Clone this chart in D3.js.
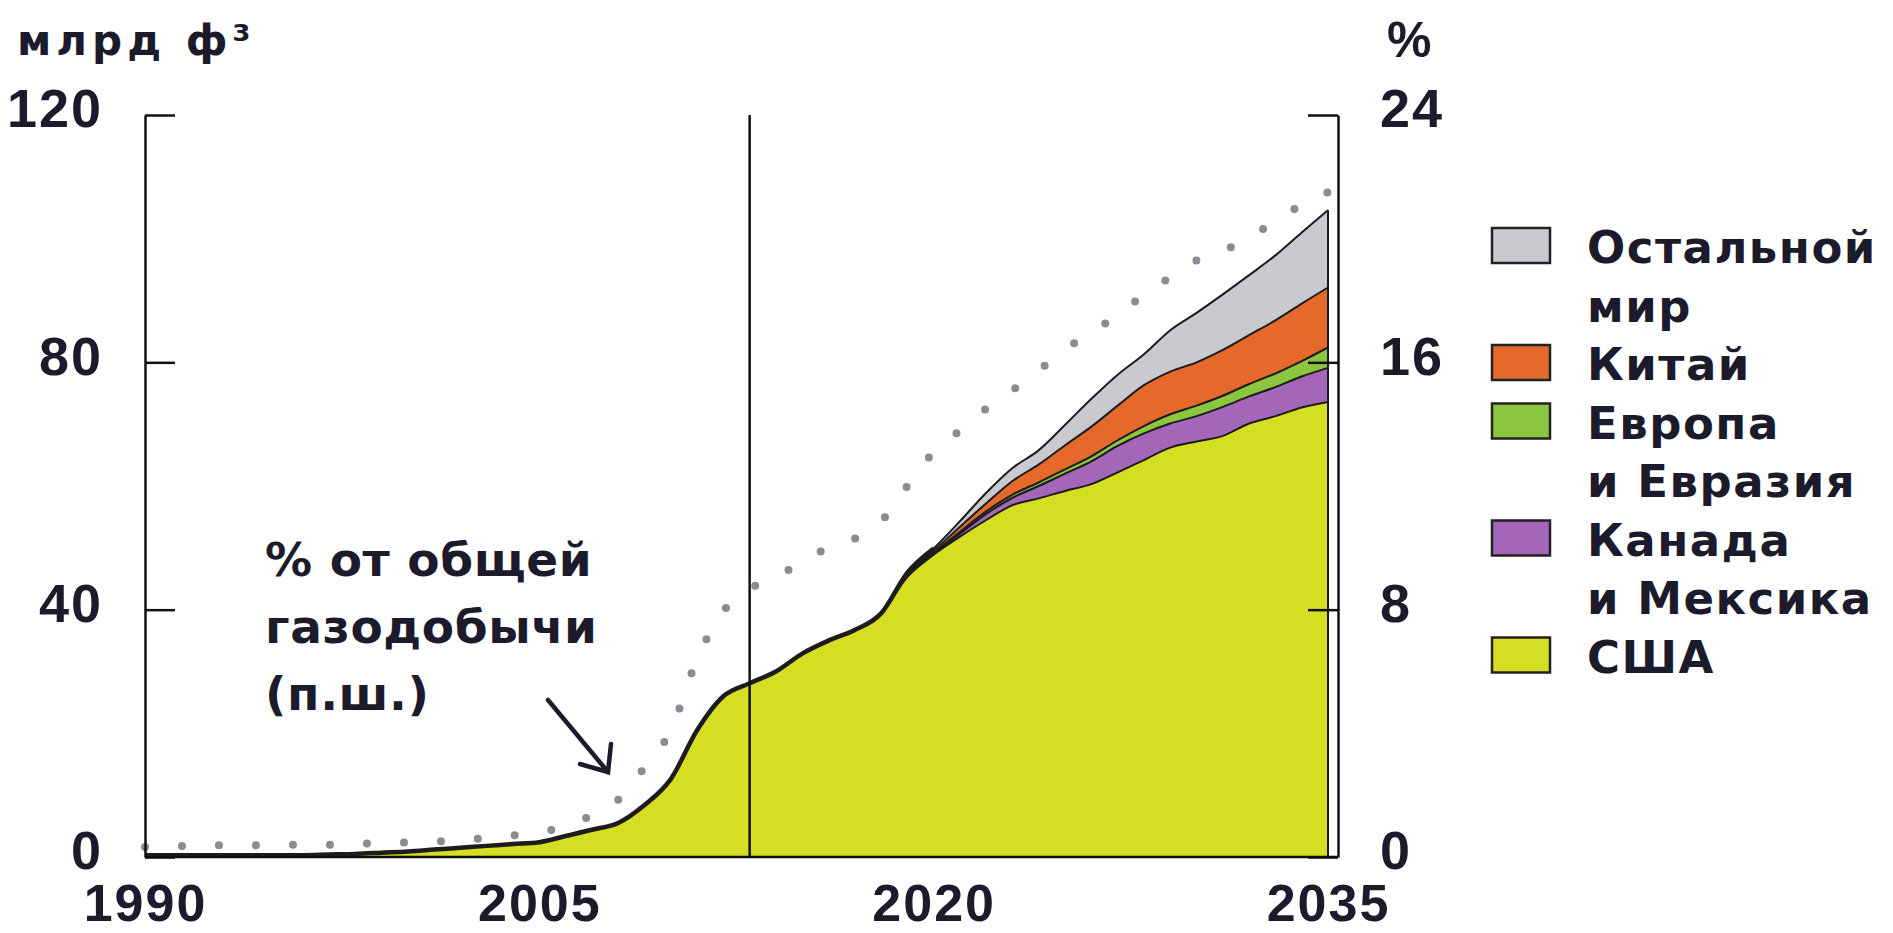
<!DOCTYPE html>
<html>
<head>
<meta charset="utf-8">
<script src="https://cdn.jsdelivr.net/npm/d3@7"></script>
<style>
  body { margin: 0; background: #fff; }
  text { fill: #1b1b2b; }
</style>
</head>
<body>
<script>
// years 1990..2035, one value per year
const years = d3.range(1990, 2036);

// bcm
const usa = [0.3, 0.3, 0.3, 0.3, 0.3, 0.3, 0.3, 0.4, 0.5, 0.7,
  0.9, 1.2, 1.5, 1.8, 2.1, 2.4, 3.4, 4.4, 5.5, 8.4,
  12.6, 20.5, 26.0, 28.1, 30.0, 32.9, 35.0, 36.7, 39.4, 45.3,
  48.9, 51.8, 54.5, 56.9, 58.0, 59.2, 60.3, 62.2, 64.2, 66.2,
  67.2, 68.1, 70.1, 71.3, 72.7, 73.6];
const canadaMexico = [0, 0, 0, 0, 0, 0, 0, 0, 0, 0,
  0, 0, 0, 0, 0, 0, 0, 0, 0, 0,
  0, 0, 0, 0, 0, 0, 0, 0, 0, 0.1,
  0.2, 0.5, 1.0, 1.2, 2.0, 2.8, 3.7, 4.3, 4.3, 3.9,
  4.1, 4.7, 4.4, 4.7, 5.0, 5.5];
const europeEurasia = [0, 0, 0, 0, 0, 0, 0, 0, 0, 0,
  0, 0, 0, 0, 0, 0, 0, 0, 0, 0,
  0, 0, 0, 0, 0, 0, 0, 0, 0, 0.1,
  0.1, 0.3, 0.4, 0.5, 0.6, 0.7, 0.8, 0.9, 1.2, 1.5,
  1.7, 1.8, 2.0, 2.2, 2.5, 3.3];
const china = [0, 0, 0, 0, 0, 0, 0, 0, 0, 0,
  0, 0, 0, 0, 0, 0, 0, 0, 0, 0,
  0, 0, 0, 0, 0, 0, 0, 0, 0, 0.2,
  0.3, 0.8, 1.3, 2.2, 2.9, 3.9, 4.8, 5.6, 6.6, 6.9,
  7.0, 7.4, 7.9, 8.6, 9.3, 9.7];
const restOfWorld = [0, 0, 0, 0, 0, 0, 0, 0, 0, 0,
  0, 0, 0, 0, 0, 0, 0, 0, 0, 0,
  0, 0, 0, 0, 0, 0, 0, 0, 0, 0.3,
  0.4, 0.9, 1.7, 2.1, 2.3, 3.3, 4.5, 5.0, 5.0, 6.7,
  8.0, 9.0, 9.7, 10.5, 11.5, 12.5];

// % of total gas production (right axis)
const shareOfTotal = [0.32, 0.35, 0.37, 0.38, 0.38, 0.39, 0.4, 0.4, 0.42, 0.45,
  0.47, 0.5, 0.54, 0.62, 0.7, 0.8, 1.0, 1.35, 1.85, 2.9,
  4.1, 6.4, 7.95, 8.67, 9.05, 9.55, 10.0, 10.3, 10.85, 12.0,
  13.1, 13.8, 14.5, 15.1, 15.75, 16.4, 17.0, 17.5, 18.2, 18.75,
  19.3, 19.6, 20.05, 20.55, 21.1, 21.5];

const seriesKeys = ["usa", "canadaMexico", "europeEurasia", "china", "restOfWorld"];
const seriesColors = ["#d5de22", "#a466b9", "#8cc63f", "#e5692a", "#c9cacf"];
const legendLabels = [
  ["Остальной", "мир"],
  ["Китай"],
  ["Европа", "и Евразия"],
  ["Канада", "и Мексика"],
  ["США"]
];
const legendColors = ["#c9cacf", "#e5692a", "#8cc63f", "#a466b9", "#d5de22"];

const leftTicks = [0, 40, 80, 120];
const rightTicks = [0, 8, 16, 24];
const yearTicks = [1990, 2005, 2020, 2035];
const projectionStart = 2013;

const WIDTH = 1893, HEIGHT = 933;
const PLOT = { left: 145, right: 1328, axisRight: 1338, top: 115, bottom: 857 };
const NUM_FONT = "'Liberation Sans', Arial, sans-serif";
const TXT_FONT = "'DejaVu Sans', sans-serif";

const svg = d3.select("body").append("svg")
  .attr("width", WIDTH).attr("height", HEIGHT);

const x = d3.scaleLinear().domain([1990, 2035]).range([PLOT.left, PLOT.right]);
const yLeft = d3.scaleLinear().domain([0, 120]).range([PLOT.bottom, PLOT.top]);
const yRight = d3.scaleLinear().domain([0, 24]).range([PLOT.bottom, PLOT.top]);

const table = years.map((yr, i) => ({
  year: yr,
  usa: usa[i],
  canadaMexico: canadaMexico[i],
  europeEurasia: europeEurasia[i],
  china: china[i],
  restOfWorld: restOfWorld[i],
  share: shareOfTotal[i]
}));

const stacked = d3.stack().keys(seriesKeys)(table);

const area = d3.area()
  .x(d => x(d.data.year))
  .y0(d => yLeft(d[0]))
  .y1(d => yLeft(d[1]))
  .curve(d3.curveMonotoneX);

const topLine = d3.line()
  .x(d => x(d.data.year))
  .y(d => yLeft(d[1]))
  .curve(d3.curveMonotoneX);

svg.append("g").selectAll("path")
  .data(stacked)
  .join("path")
  .attr("d", area)
  .attr("fill", (_, i) => seriesColors[i]);

svg.append("g").selectAll("path")
  .data(stacked)
  .join("path")
  .attr("d", topLine)
  .attr("fill", "none")
  .attr("stroke", "#1c1c1c")
  .attr("stroke-width", 2);

// heavier outline on the historical part of the total
const total = stacked[stacked.length - 1];
svg.append("path")
  .attr("d", topLine(total.filter(d => d.data.year <= 2020)))
  .attr("fill", "none")
  .attr("stroke", "#1c1c1c")
  .attr("stroke-width", 4.5)
  .attr("stroke-linejoin", "round");

// right edge of the stack
const last = total[total.length - 1];
svg.append("line")
  .attr("x1", x(2035)).attr("x2", x(2035))
  .attr("y1", yLeft(last[1])).attr("y2", yLeft(0))
  .attr("stroke", "#1c1c1c").attr("stroke-width", 2);

// dotted share line
svg.append("path")
  .datum(table)
  .attr("d", d3.line()
    .x(d => x(d.year))
    .y(d => yRight(d.share))
    .curve(d3.curveMonotoneX))
  .attr("fill", "none")
  .attr("stroke", "#8b8b92")
  .attr("stroke-width", 8)
  .attr("stroke-linecap", "round")
  .attr("stroke-dasharray", "0,37");

// projection divider
svg.append("line")
  .attr("x1", x(projectionStart)).attr("x2", x(projectionStart))
  .attr("y1", PLOT.top).attr("y2", PLOT.bottom)
  .attr("stroke", "#111").attr("stroke-width", 2.5);

// axes
const leftAxis = svg.append("g")
  .attr("transform", `translate(${PLOT.left},0)`)
  .call(d3.axisLeft(yLeft).tickValues(leftTicks).tickSize(-30).tickSizeOuter(0).tickPadding(42));
const rightAxis = svg.append("g")
  .attr("transform", `translate(${PLOT.axisRight},0)`)
  .call(d3.axisRight(yRight).tickValues(rightTicks).tickSize(-30).tickSizeOuter(0).tickPadding(42));
const bottomAxis = svg.append("g")
  .attr("transform", `translate(0,${PLOT.bottom})`)
  .call(d3.axisBottom(x).tickValues(yearTicks).tickFormat(d3.format("d")).tickSize(0).tickPadding(27));

[leftAxis, rightAxis, bottomAxis].forEach(g => {
  g.selectAll("path.domain").attr("stroke", "#111").attr("stroke-width", 2.5);
  g.selectAll(".tick line").attr("stroke", "#111").attr("stroke-width", 2.5);
  g.selectAll("text")
    .attr("font-family", NUM_FONT)
    .attr("font-weight", "bold")
    .attr("font-size", 54)
    .attr("letter-spacing", 2)
    .style("fill", "#1b1b2b");
});
leftAxis.selectAll("text").attr("dy", "0.22em");
rightAxis.selectAll("text").attr("dy", "0.22em");
bottomAxis.selectAll("text").attr("font-size", 52);
bottomAxis.select("path.domain").remove();

svg.append("line")
  .attr("x1", PLOT.left).attr("x2", PLOT.axisRight)
  .attr("y1", PLOT.bottom).attr("y2", PLOT.bottom)
  .attr("stroke", "#111").attr("stroke-width", 2.5);

// units
svg.append("text")
  .attr("x", 17).attr("y", 55)
  .attr("font-family", TXT_FONT).attr("font-weight", "bold")
  .attr("font-size", 42).attr("letter-spacing", 5)
  .text("млрд ф³");
svg.append("text")
  .attr("x", 1387).attr("y", 57)
  .attr("font-family", NUM_FONT).attr("font-weight", "bold")
  .attr("font-size", 50)
  .text("%");

// annotation
const note = svg.append("text")
  .attr("font-family", TXT_FONT).attr("font-weight", "bold")
  .attr("font-size", 47).attr("letter-spacing", 0.6);
["% от общей", "газодобычи", "(п.ш.)"].forEach((t, i) => {
  note.append("tspan").attr("x", 265).attr("y", 576 + i * 67).text(t);
});
const arrow = svg.append("g")
  .attr("stroke", "#1b1b2b").attr("stroke-width", 4.5)
  .attr("stroke-linecap", "round").attr("fill", "none");
arrow.append("line").attr("x1", 548).attr("y1", 700).attr("x2", 608).attr("y2", 772);
arrow.append("polyline").attr("points", "580,764 608,772 611,744");

// legend
const LEG = { boxX: 1492, textX: 1587, firstBase: 263, lineStep: 58.5, boxW: 58, boxH: 35 };
let lineIndex = 0;
legendLabels.forEach((lines, i) => {
  const base = LEG.firstBase + lineIndex * LEG.lineStep;
  svg.append("rect")
    .attr("x", LEG.boxX).attr("y", base - LEG.boxH)
    .attr("width", LEG.boxW).attr("height", LEG.boxH)
    .attr("fill", legendColors[i])
    .attr("stroke", "#222").attr("stroke-width", 2.5);
  const t = svg.append("text")
    .attr("font-family", TXT_FONT).attr("font-weight", "bold")
    .attr("font-size", 45).attr("letter-spacing", 1.5);
  lines.forEach((l, j) => {
    t.append("tspan").attr("x", LEG.textX).attr("y", base + j * LEG.lineStep).text(l);
  });
  lineIndex += lines.length;
});
</script>
</body>
</html>
